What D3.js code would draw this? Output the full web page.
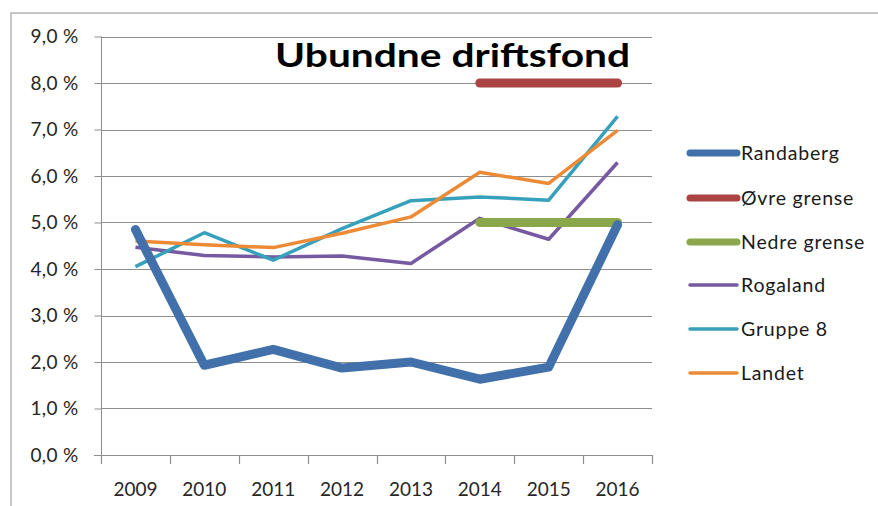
<!DOCTYPE html>
<html>
<head>
<meta charset="utf-8">
<script src="https://cdn.jsdelivr.net/npm/d3@7"></script>
<style>
	body { margin: 0; background: #fff; }
	svg { display: block; }
</style>
</head>
<body>
<svg id="graphic" width="878" height="506"></svg>
<script>
var years = ["2009", "2010", "2011", "2012", "2013", "2014", "2015", "2016"];
var yTicks = [0, 1, 2, 3, 4, 5, 6, 7, 8, 9];

// values in percent, null where the series has no point
var randaberg = [4.85, 1.93, 2.27, 1.87, 2.0, 1.63, 1.89, 4.95];
var ovreGrense = [null, null, null, null, null, 8.0, 8.0, 8.0];
var nedreGrense = [null, null, null, null, null, 5.0, 5.0, 5.0];
var rogaland = [4.47, 4.29, 4.26, 4.28, 4.12, 5.09, 4.64, 6.29];
var gruppe8 = [4.05, 4.78, 4.19, 4.87, 5.47, 5.55, 5.48, 7.28];
var landet = [4.6, 4.52, 4.46, 4.77, 5.12, 6.08, 5.84, 6.98];

var seriesNames = ["Randaberg", "Øvre grense", "Nedre grense", "Rogaland", "Gruppe 8", "Landet"];

var FONT = "Lato, 'Open Sans', sans-serif";

function generateGraphic() {
	var svg = d3.select("svg");

	var series = [
		{ name: seriesNames[0], values: randaberg, color: "#4170aa", width: 9 },
		{ name: seriesNames[1], values: ovreGrense, color: "#aa4341", width: 9 },
		{ name: seriesNames[2], values: nedreGrense, color: "#8aa84b", width: 9 },
		{ name: seriesNames[3], values: rogaland, color: "#7659a0", width: 3.5 },
		{ name: seriesNames[4], values: gruppe8, color: "#37a0ba", width: 3.5 },
		{ name: seriesNames[5], values: landet, color: "#ec8a36", width: 3.5 }
	];

	// outer frame (only top and left edges are visible)
	svg.append("path")
		.attr("fill", "none")
		.attr("stroke", "#c6c6c6")
		.attr("stroke-width", 2)
		.attr("d", "M11,506V13H878");

	var x = d3.scaleBand()
		.domain(years)
		.range([101, 652]);

	var y = d3.scaleLinear()
		.domain([0, 9])
		.range([455, 36.5]);

	var locale = d3.formatLocale({ decimal: ",", thousands: " ", grouping: [3], currency: ["", ""] });
	var fmt = locale.format(".1f");

	// gridlines
	svg.append("g")
		.selectAll("line")
		.data(yTicks.filter(function(d) { return d > 0; }))
		.enter().append("line")
			.attr("x1", 101)
			.attr("x2", 652)
			.attr("y1", function(d) { return Math.round(y(d)) + 0.5; })
			.attr("y2", function(d) { return Math.round(y(d)) + 0.5; })
			.attr("stroke", "#8e8e8e")
			.attr("stroke-width", 1.2);

	// y axis
	var yAxis = svg.append("g")
		.attr("transform", "translate(101.5,0)")
		.call(d3.axisLeft(y)
			.tickValues(yTicks)
			.tickSize(7)
			.tickPadding(16)
			.tickFormat(function(d) { return fmt(d) + " %"; }));
	yAxis.select(".domain").attr("stroke", "#8e8e8e").attr("d", "M0,455.5V36.5");
	yAxis.selectAll(".tick line").attr("stroke", "#8e8e8e");
	yAxis.selectAll(".tick text")
		.attr("fill", "#262626")
		.attr("font-family", FONT)
		.attr("font-size", 19)
		.attr("letter-spacing", 0.3);

	// x axis, ticks between the categories
	var botg = svg.append("g");
	botg.append("line")
		.attr("x1", 94)
		.attr("x2", 652)
		.attr("y1", 455.5)
		.attr("y2", 455.5)
		.attr("stroke", "#8e8e8e")
		.attr("stroke-width", 1.2);

	var edges = years.map(function(d) { return x(d); }).concat([x.range()[1]]);
	botg.selectAll("line.tick")
		.data(edges)
		.enter().append("line")
			.attr("class", "tick")
			.attr("x1", function(d) { return Math.round(d) + 0.5; })
			.attr("x2", function(d) { return Math.round(d) + 0.5; })
			.attr("y1", 455)
			.attr("y2", 464)
			.attr("stroke", "#8e8e8e")
			.attr("stroke-width", 1.2);

	botg.selectAll("text")
		.data(years)
		.enter().append("text")
			.attr("x", function(d) { return x(d) + x.bandwidth() / 2; })
			.attr("y", 496)
			.attr("text-anchor", "middle")
			.attr("fill", "#262626")
			.attr("font-family", FONT)
			.attr("font-size", 19)
			.text(function(d) { return d; });

	// lines
	var line = d3.line()
		.defined(function(d) { return d.v !== null; })
		.x(function(d) { return x(d.year) + x.bandwidth() / 2; })
		.y(function(d) { return y(d.v); });

	// draw thin series first, Randaberg and limits on top
	var order = [3, 4, 5, 2, 1, 0];
	for (var i = 0; i < order.length; i++) {
		var s = series[order[i]];
		var pts = years.map(function(yr, j) { return { year: yr, v: s.values[j] }; });
		svg.append("path")
			.datum(pts)
			.attr("fill", "none")
			.attr("stroke", s.color)
			.attr("stroke-width", s.width)
			.attr("stroke-linecap", s.width > 5 ? "round" : "butt")
			.attr("stroke-linejoin", "round")
			.attr("d", line);
	}

	// title
	svg.append("text")
		.attr("x", 275)
		.attr("y", 67)
		.attr("font-family", FONT)
		.attr("font-weight", "bold")
		.attr("font-size", 33)
		.attr("fill", "#000")
		.attr("textLength", 355)
		.attr("lengthAdjust", "spacingAndGlyphs")
		.text("Ubundne driftsfond");

	// legend
	var legend = svg.append("g");
	var rowY = [153, 198, 242, 285, 329, 373];
	for (var k = 0; k < series.length; k++) {
		var lg = legend.append("g").attr("transform", "translate(0," + rowY[k] + ")");
		lg.append("line")
			.attr("x1", 690)
			.attr("x2", 737)
			.attr("stroke", series[k].color)
			.attr("stroke-width", series[k].width > 5 ? 7 : 3.5)
			.attr("stroke-linecap", "round");
		lg.append("text")
			.attr("x", 741)
			.attr("y", 7)
			.attr("font-family", FONT)
			.attr("font-size", 19.5)
			.attr("letter-spacing", 0.8)
			.attr("fill", "#1a1a1a")
			.text(series[k].name);
	}
}

generateGraphic();
</script>
</body>
</html>
